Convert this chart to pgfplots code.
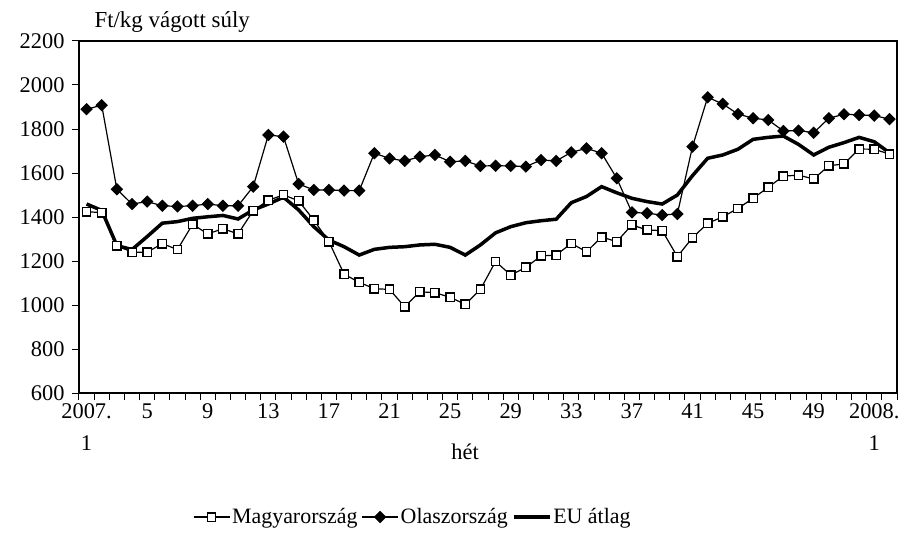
\documentclass[border=0pt]{standalone}
\usepackage{fontspec}
\setmainfont{Liberation Serif}
\usepackage{pgfplots}
\pgfplotsset{compat=1.18}
\usepackage{pgfplotstable}

\pgfplotstableread{
w hu it eu
1 1424 1890 1459
2 1420 1908 1430
3 1270 1526 1270
4 1240 1459 1252
5 1240 1470 1311
6 1279 1451 1372
7 1252 1448 1379
8 1367 1451 1394
9 1323 1459 1401
10 1347 1451 1407
11 1323 1451 1391
12 1429 1538 1432
13 1476 1773 1459
14 1501 1765 1490
15 1473 1550 1432
16 1386 1523 1356
17 1288 1523 1295
18 1140 1520 1265
19 1103 1520 1227
20 1074 1690 1253
21 1071 1666 1262
22 992 1655 1265
23 1060 1674 1273
24 1056 1682 1276
25 1035 1651 1262
26 1003 1655 1227
27 1071 1632 1273
28 1198 1633 1328
29 1136 1632 1356
30 1171 1629 1374
31 1223 1659 1383
32 1227 1655 1390
33 1280 1694 1465
34 1242 1712 1493
35 1309 1690 1538
36 1288 1576 1510
37 1364 1421 1485
38 1341 1417 1470
39 1338 1409 1459
40 1220 1414 1500
41 1306 1720 1588
42 1371 1944 1667
43 1401 1914 1682
44 1439 1868 1708
45 1485 1849 1753
46 1535 1841 1762
47 1586 1791 1768
48 1590 1793 1730
49 1573 1783 1682
50 1633 1849 1717
51 1641 1867 1738
52 1709 1864 1762
53 1708 1861 1742
54 1686 1845 1692
}\data

\begin{document}
\begin{tikzpicture}
\path[use as bounding box] (-79bp,-155bp) rectangle (826bp,393bp);
\begin{axis}[
  at={(0,0)}, anchor=south west,
  scale only axis, width=818bp, height=352bp,
  xmin=0.5, xmax=54.5, ymin=600, ymax=2200,
  ytick={600,800,...,2200},
  xtick={1,5,...,53},
  xticklabels={{2007.\\1},5,9,13,17,21,25,29,33,37,41,45,49,{2008.\\1}},
  minor xtick={0.5,1.5,...,54.5},
  tick align=outside, tick pos=left,
  major tick length=7bp, minor tick length=7bp,
  tick style={black, line width=1bp},
  major x tick style={draw=none},
  axis line style={line width=1.5bp},
  /pgf/number format/1000 sep={},
  /pgf/number format/assume math mode=true,
  tick label style={font=\fontsize{22.5}{32}\selectfont},
  xticklabel style={align=center},
  yticklabel style={xshift=-4bp},
  every axis y label/.style={at={(axis description cs:0,1)}, anchor=west, xshift=12bp, yshift=19bp, font=\fontsize{23}{26}\selectfont},
  every axis x label/.style={at={(axis description cs:0.472,0)}, anchor=center, yshift=-59bp, font=\fontsize{22.5}{26}\selectfont},
  ylabel={Ft/kg vágott súly},
  xlabel={hét},
  legend style={at={(axis description cs:0.408,0)}, yshift=-124bp, anchor=center, draw=none, fill=none, legend columns=-1, font=\fontsize{22}{26}\selectfont, /tikz/every even column/.append style={column sep=2bp}, /tikz/every odd column/.append style={column sep=0bp}},
  legend cell align=left,
  legend image code/.code={\draw[mark repeat=2,mark phase=2,#1] plot coordinates {(0bp,0bp) (18bp,0bp) (36bp,0bp)};},
]
\addplot[black, line width=1.2bp, mark=square*, mark size=4.2bp, mark options={fill=white, line width=1.4bp}] table[x=w,y=hu]{\data};
\addlegendentry{Magyarország}
\addplot[black, line width=1.2bp, mark=square*, mark size=3.8bp, mark options={rotate=45, fill=black}] table[x=w,y=it]{\data};
\addlegendentry{Olaszország}
\addplot[black, line width=3.5bp] table[x=w,y=eu]{\data};
\addlegendentry{EU átlag}
\end{axis}
\end{tikzpicture}
\end{document}
